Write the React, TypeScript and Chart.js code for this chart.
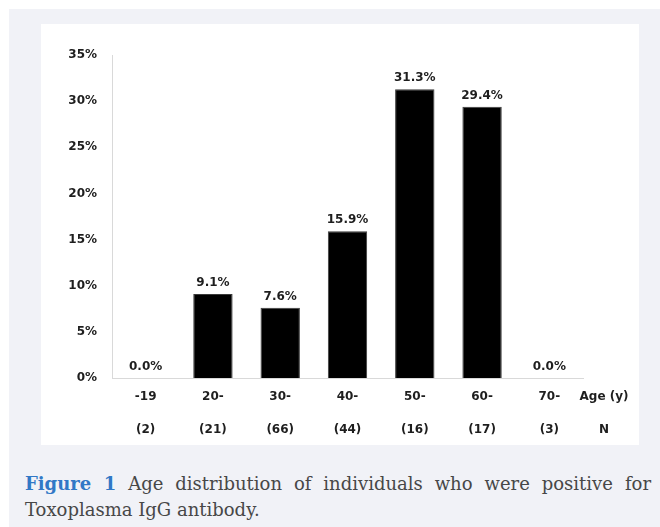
import { useEffect, useRef } from "react";
import { Chart, registerables } from "chart.js";

Chart.register(...registerables);

// Age groups, group sizes and share of IgG-positive individuals (%)
const ageGroups = ["-19", "20-", "30-", "40-", "50-", "60-", "70-"];
const groupSizes = ["(2)", "(21)", "(66)", "(44)", "(16)", "(17)", "(3)"];
const positivePercent = [0.0, 9.1, 7.6, 15.9, 31.3, 29.4, 0.0];

// Value axis range
const yMin = 0;
const yMax = 35;
const yStep = 5;

// Row titles printed after the last category
const ageRowTitle = "Age (y)";
const sizeRowTitle = "N";

const captionLead = "Figure 1";
const captionLine1 = " Age distribution of individuals who were positive for";
const captionLine2 = "Toxoplasma IgG antibody.";

const LABEL_FONT = "bold 12px 'DejaVu Sans', sans-serif";
const TEXT_COLOR = "#1e1e1e";
const AXIS_COLOR = "#d9d9d9";
const X_TICK_PAD = 2.5;
const X_LINE_HEIGHT = 33;

const valueLabels = {
  id: "valueLabels",
  afterDatasetsDraw(chart: any) {
    const { ctx } = chart;
    const meta = chart.getDatasetMeta(0);
    ctx.save();
    ctx.font = LABEL_FONT;
    ctx.fillStyle = TEXT_COLOR;
    ctx.textAlign = "center";
    ctx.textBaseline = "alphabetic";
    meta.data.forEach((bar: any, i: number) => {
      ctx.fillText(positivePercent[i].toFixed(1) + "%", bar.x, bar.y - 8);
    });
    ctx.restore();
  },
};

const rowTitles = {
  id: "rowTitles",
  afterDraw(chart: any) {
    const { ctx } = chart;
    const xs = chart.scales.x;
    const cx = xs.right + 21;
    const y0 = xs.top + X_TICK_PAD + X_LINE_HEIGHT / 2;
    ctx.save();
    ctx.font = LABEL_FONT;
    ctx.fillStyle = TEXT_COLOR;
    ctx.textAlign = "center";
    ctx.textBaseline = "middle";
    ctx.fillText(ageRowTitle, cx, y0);
    ctx.fillText(sizeRowTitle, cx, y0 + X_LINE_HEIGHT);
    ctx.restore();
  },
};

function AgeChart() {
  const ref = useRef<HTMLCanvasElement | null>(null);

  useEffect(() => {
    if (!ref.current) return;
    const chart = new Chart(ref.current, {
      type: "bar",
      data: {
        labels: ageGroups.map((g, i) => [g, groupSizes[i]]),
        datasets: [
          {
            data: positivePercent,
            backgroundColor: "#000000",
            borderColor: "#3a3a3a",
            borderWidth: 1,
            categoryPercentage: 1,
            barPercentage: 0.585,
          },
        ],
      },
      options: {
        responsive: false,
        animation: false,
        devicePixelRatio: 1,
        layout: { padding: { top: 31, right: 56, left: 0, bottom: 0 } },
        plugins: {
          legend: { display: false },
          tooltip: { enabled: false },
        },
        scales: {
          x: {
            grid: { display: false, drawTicks: false },
            border: { display: true, color: AXIS_COLOR, width: 1 },
            ticks: {
              color: TEXT_COLOR,
              padding: X_TICK_PAD,
              maxRotation: 0,
              autoSkip: false,
              font: {
                family: "'DejaVu Sans', sans-serif",
                size: 12,
                weight: "bold",
                lineHeight: X_LINE_HEIGHT + "px",
              },
            },
            afterFit: (scale: any) => {
              scale.height = 67;
            },
          },
          y: {
            min: yMin,
            max: yMax,
            grid: { display: false, drawTicks: false },
            border: { display: true, color: AXIS_COLOR, width: 1 },
            ticks: {
              stepSize: yStep,
              color: TEXT_COLOR,
              padding: 15,
              font: { family: "'DejaVu Sans', sans-serif", size: 12, weight: "bold" },
              callback: (v: any) => v + "%",
            },
            afterFit: (scale: any) => {
              scale.width = 71;
            },
          },
        },
      },
      plugins: [valueLabels, rowTitles],
    });
    return () => chart.destroy();
  }, []);

  return <canvas ref={ref} width={598} height={421} style={{ display: "block" }} />;
}

export default function App() {
  return (
    <div
      style={{
        position: "absolute",
        left: 9,
        top: 9,
        width: 651,
        height: 518,
        background: "#f1f2f7",
        overflow: "hidden",
      }}
    >
      <div
        style={{
          position: "absolute",
          left: 32,
          top: 15,
          width: 598,
          height: 421,
          background: "#ffffff",
        }}
      >
        <AgeChart />
      </div>
      <div
        style={{
          position: "absolute",
          left: 16,
          top: 461.5,
          width: 626,
          fontFamily: "'DejaVu Serif', serif",
          fontSize: 18,
          lineHeight: "26.5px",
          color: "#474747",
        }}
      >
        <div style={{ textAlign: "justify", textAlignLast: "justify" as any }}>
          <span style={{ color: "#3178c6", fontWeight: "bold" }}>{captionLead}</span>
          {captionLine1}
        </div>
        <div>{captionLine2}</div>
      </div>
    </div>
  );
}
